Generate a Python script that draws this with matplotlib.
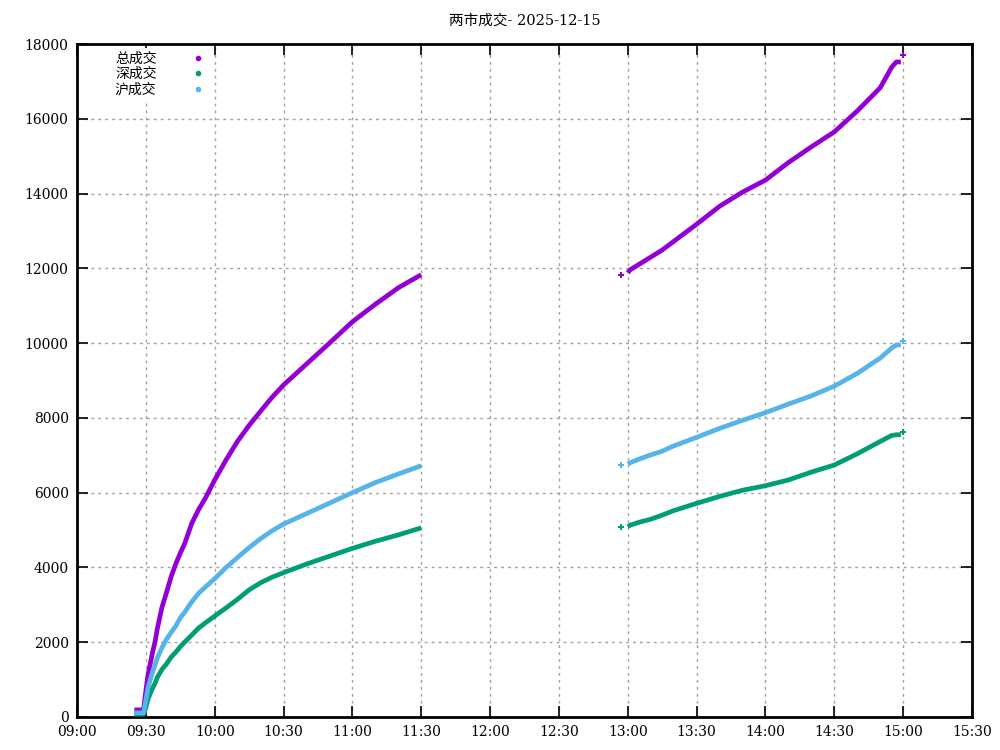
import numpy as np
import pandas as pd
import matplotlib
matplotlib.use('Agg')
import matplotlib.pyplot as plt
import matplotlib.dates as mdates

plt.rcParams['font.family'] = ['DejaVu Serif', 'Noto Sans CJK SC']

day = '2025-12-15'

# 上午 (morning session)
am_times = ['09:25', '09:29', '09:30', '09:31', '09:32', '09:33', '09:34', '09:35', '09:37',
            '09:39', '09:41', '09:43', '09:45', '09:47', '09:50', '09:53', '09:56', '10:00',
            '10:05', '10:10', '10:15', '10:20', '10:25', '10:30', '10:40', '10:50', '11:00',
            '11:10', '11:20', '11:30']
am_total = [190, 190, 700, 1150, 1450, 1750, 2010, 2360, 2930,
            3330, 3750, 4090, 4380, 4650, 5180, 5550, 5860, 6340,
            6880, 7380, 7800, 8180, 8550, 8880, 9440, 10000, 10570,
            11040, 11480, 11830]
am_sz = [80, 80, 250, 490, 640, 780, 900, 1060, 1270,
         1420, 1600, 1730, 1880, 2010, 2190, 2380, 2520, 2700,
         2920, 3150, 3400, 3590, 3740, 3860, 4090, 4300, 4510,
         4700, 4870, 5060]
am_sh = [110, 110, 450, 800, 1010, 1220, 1390, 1580, 1850,
         2080, 2260, 2430, 2650, 2810, 3080, 3310, 3480, 3700,
         4000, 4270, 4530, 4770, 4980, 5160, 5440, 5720, 6000,
         6270, 6500, 6720]

# 下午 (afternoon session)
pm_times = ['13:00', '13:01', '13:05', '13:10', '13:15', '13:20', '13:30', '13:40', '13:50',
            '14:00', '14:10', '14:20', '14:30', '14:40', '14:50', '14:55', '14:57', '14:59']
pm_total = [11880, 11960, 12110, 12300, 12490, 12720, 13180, 13660, 14040,
            14360, 14830, 15250, 15650, 16210, 16830, 17380, 17520, 17520]
pm_sz = [5090, 5130, 5210, 5290, 5400, 5520, 5715, 5900, 6065,
         6186, 6340, 6550, 6740, 7040, 7370, 7530, 7550, 7550]
pm_sh = [6770, 6800, 6900, 7010, 7110, 7250, 7480, 7720, 7935,
         8140, 8370, 8590, 8850, 9190, 9600, 9870, 9950, 9950]

# 单独的点 (isolated points)
solo_times = ['12:57', '15:00']
solo_total = [11820, 17710]
solo_sz = [5070, 7610]
solo_sh = [6730, 10070]

names = ['总成交', '深成交', '沪成交']
colors = ['#9400d3', '#009e73', '#56b4e9']


def to_dt(ts):
    return pd.to_datetime([day + ' ' + t for t in ts])


am_x = to_dt(am_times)
pm_x = to_dt(pm_times)
solo_x = to_dt(solo_times)

fig = plt.figure(figsize=(10, 7.5), dpi=100)
ax = fig.add_axes([0.077, 0.044, 0.895, 0.8973])

series = [(am_total, pm_total, solo_total), (am_sz, pm_sz, solo_sz), (am_sh, pm_sh, solo_sh)]
for (am, pm, solo), name, c in zip(series, names, colors):
    ax.plot(am_x, am, color=c, lw=3.4, solid_capstyle='butt', solid_joinstyle='round', zorder=3)
    ax.plot(pm_x, pm, color=c, lw=3.4, solid_capstyle='butt', solid_joinstyle='round', zorder=3)
    ax.plot(solo_x, solo, ls='none', marker='P', ms=4.5, mew=0, color=c, zorder=3)
    ax.plot([], [], ls='none', marker='o', ms=3, color=c, label=name)

ax.set_xlim(pd.Timestamp(day + ' 09:00'), pd.Timestamp(day + ' 15:30'))
ax.set_ylim(0, 18000)
ax.xaxis.set_major_locator(mdates.MinuteLocator(byminute=[0, 30]))
ax.xaxis.set_major_formatter(mdates.DateFormatter('%H:%M'))
ax.set_yticks(np.arange(0, 18001, 2000))

ax.tick_params(direction='in', length=8, width=1.2, top=True, right=True, labelsize=10, pad=6)
ax.grid(True, color='#a0a0a0', ls=(0, (2, 3)), lw=1)
ax.set_axisbelow(True)
for s in ax.spines.values():
    s.set_linewidth(2)

ax.set_title('两市成交- 2025-12-15', fontsize=10.5, pad=14)

leg = ax.legend(loc='upper left', bbox_to_anchor=(0.03, 1.005), markerfirst=False, frameon=True,
                fontsize=10, handlelength=1.5, handletextpad=2.2, labelspacing=0.1,
                borderpad=0.3, fancybox=False)
leg.get_frame().set_edgecolor('none')
leg.get_frame().set_facecolor('white')
leg.get_frame().set_alpha(1)

fig.savefig('out.png', dpi=100)
